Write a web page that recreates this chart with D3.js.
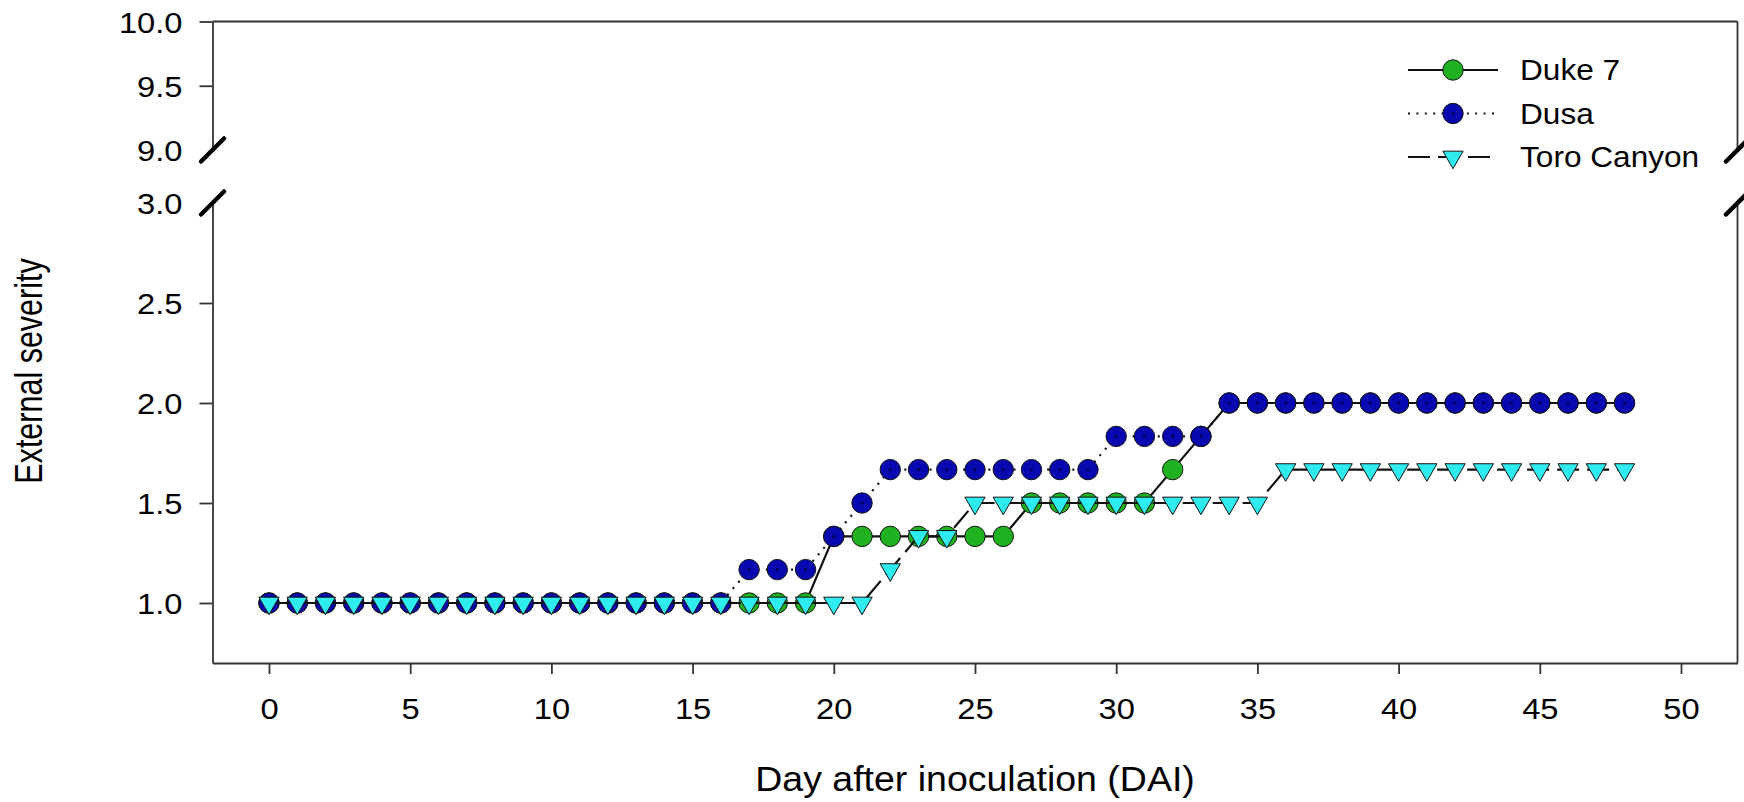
<!DOCTYPE html>
<html lang="en">
<head>
<meta charset="UTF-8">
<title>External severity</title>
<style>
  body { margin: 0; background: #fff; }
  svg text { font-family: "Liberation Sans", Arial, sans-serif; fill: #000; }
</style>
</head>
<body>
<div id="chart"></div>
<script src="https://cdn.jsdelivr.net/npm/d3@7"></script>
<script>
// data
const days = [0, 1, 2, 3, 4, 5, 6, 7, 8, 9, 10, 11, 12, 13, 14, 15, 16, 17, 18, 19, 20, 21, 22, 23, 24,
  25, 26, 27, 28, 29, 30, 31, 32, 33, 34, 35, 36, 37, 38, 39, 40, 41, 42, 43, 44, 45, 46, 47, 48];
const duke7 = [1, 1, 1, 1, 1, 1, 1, 1, 1, 1, 1, 1, 1, 1, 1, 1, 1, 1, 1, 1,
  1.333, 1.333, 1.333, 1.333, 1.333, 1.333, 1.333,
  1.5, 1.5, 1.5, 1.5, 1.5, 1.667, 1.833,
  2, 2, 2, 2, 2, 2, 2, 2, 2, 2, 2, 2, 2, 2, 2];
const dusa = [1, 1, 1, 1, 1, 1, 1, 1, 1, 1, 1, 1, 1, 1, 1, 1, 1,
  1.167, 1.167, 1.167, 1.333, 1.5,
  1.667, 1.667, 1.667, 1.667, 1.667, 1.667, 1.667, 1.667,
  1.833, 1.833, 1.833, 1.833,
  2, 2, 2, 2, 2, 2, 2, 2, 2, 2, 2, 2, 2, 2, 2];
const toro = [1, 1, 1, 1, 1, 1, 1, 1, 1, 1, 1, 1, 1, 1, 1, 1, 1, 1, 1, 1, 1, 1,
  1.167, 1.333, 1.333,
  1.5, 1.5, 1.5, 1.5, 1.5, 1.5, 1.5, 1.5, 1.5, 1.5, 1.5,
  1.667, 1.667, 1.667, 1.667, 1.667, 1.667, 1.667, 1.667, 1.667, 1.667, 1.667, 1.667, 1.667];
const seriesNames = ["Duke 7", "Dusa", "Toro Canyon"];
const xTicks = [0, 5, 10, 15, 20, 25, 30, 35, 40, 45, 50];
const yTicksLow = [1.0, 1.5, 2.0, 2.5, 3.0];
const yTicksHigh = [9.0, 9.5, 10.0];

const width = 1744, height = 802;
const stretch = 1.09; // the source picture is a bit wider than tall, text looks stretched

const svg = d3.select("#chart").append("svg")
  .attr("width", width)
  .attr("height", height);

const x = d3.scaleLinear().domain([-2, 52]).range([212.5, 1737.5]);
const yLow = d3.scaleLinear().domain([0.7, 3]).range([663, 203]);
const yHigh = d3.scaleLinear().domain([9, 10]).range([150, 21.5]);

const axisColor = "#333";

function styleAxis(g) {
  g.selectAll("path, line").attr("stroke", axisColor).attr("stroke-width", 1.8);
  g.selectAll("text").attr("font-size", 30).attr("fill", "#000")
    .style("font-family", '"Liberation Sans", Arial, sans-serif');
}

// x axis
const gx = svg.append("g")
  .attr("transform", "translate(0," + yLow.range()[0] + ")")
  .call(d3.axisBottom(x).tickValues(xTicks).tickSize(11).tickSizeOuter(0).tickFormat(d3.format("d")));
styleAxis(gx);
gx.selectAll("text")
  .attr("y", 0).attr("dy", 0)
  .attr("transform", "translate(0,56) scale(" + stretch + ",1)");

// y axis, lower part
const gyLow = svg.append("g")
  .attr("transform", "translate(" + x.range()[0] + ",0)")
  .call(d3.axisLeft(yLow).tickValues(yTicksLow).tickSize(13).tickSizeOuter(0).tickFormat(d3.format(".1f")));
// y axis, upper part
const gyHigh = svg.append("g")
  .attr("transform", "translate(" + x.range()[0] + ",0)")
  .call(d3.axisLeft(yHigh).tickValues(yTicksHigh).tickSize(13).tickSizeOuter(0).tickFormat(d3.format(".1f")));

[gyLow, gyHigh].forEach(function (g) {
  styleAxis(g);
  g.selectAll(".tick line").filter(function (d) { return d === 3 || d === 9; }).remove();
  g.selectAll("text")
    .attr("x", 0).attr("dy", "0.36em")
    .attr("transform", "translate(-30,0) scale(" + stretch + ",1)");
});

// top and right frame
const frame = svg.append("g").attr("stroke", axisColor).attr("stroke-width", 1.8);
frame.append("line")
  .attr("x1", x.range()[0]).attr("x2", x.range()[1])
  .attr("y1", yHigh(10)).attr("y2", yHigh(10));
frame.append("line")
  .attr("x1", x.range()[1]).attr("x2", x.range()[1])
  .attr("y1", yHigh(10)).attr("y2", yHigh(9));
frame.append("line")
  .attr("x1", x.range()[1]).attr("x2", x.range()[1])
  .attr("y1", yLow(3)).attr("y2", yLow.range()[0]);

// axis break marks
const breaks = [];
[x.range()[0], x.range()[1]].forEach(function (bx) {
  breaks.push([bx, yHigh(9)]);
  breaks.push([bx, yLow(3)]);
});
svg.append("g").selectAll("line")
  .data(breaks)
  .enter()
  .append("line")
  .attr("x1", function (d) { return d[0] - 11.5; })
  .attr("y1", function (d) { return d[1] + 11.5; })
  .attr("x2", function (d) { return d[0] + 11.5; })
  .attr("y2", function (d) { return d[1] - 11.5; })
  .attr("stroke", "#000")
  .attr("stroke-width", 4.5)
  .attr("stroke-linecap", "round");

// series
const series = [
  { name: seriesNames[0], values: duke7, color: "#1fb11f", shape: "circle", dash: null },
  { name: seriesNames[1], values: dusa, color: "#0808b0", shape: "circle", dash: "2,6.4", dot: true },
  { name: seriesNames[2], values: toro, color: "#2eecf0", shape: "triangle", dash: "22,8" }
];

const tri = d3.symbol().type(d3.symbolTriangle).size(178);

function drawMarker(sel, s) {
  if (s.shape === "circle") {
    sel.append("circle")
      .attr("r", 10.2)
      .attr("fill", s.color)
      .attr("stroke", "#111")
      .attr("stroke-width", 1);
    if (s.dot) {
      sel.append("circle").attr("r", 1.6).attr("fill", "#000050");
    }
  } else {
    sel.append("path")
      .attr("d", tri)
      .attr("transform", "rotate(180)")
      .attr("fill", s.color)
      .attr("stroke", "#111")
      .attr("stroke-width", 1);
  }
}

const line = d3.line()
  .x(function (d, i) { return x(days[i]); })
  .y(function (d) { return yLow(d); });

series.forEach(function (s) {
  svg.append("path")
    .datum(s.values)
    .attr("d", line)
    .attr("fill", "none")
    .attr("stroke", "#111")
    .attr("stroke-width", 2.2)
    .attr("stroke-dasharray", s.dash);

  const gs = svg.append("g").selectAll("g")
    .data(s.values)
    .enter()
    .append("g")
    .attr("transform", function (d, i) { return "translate(" + x(days[i]) + "," + yLow(d) + ")"; });
  drawMarker(gs, s);
});

// legend
const legend = svg.append("g");
series.forEach(function (s, i) {
  const ly = 70 + i * 43.5;
  legend.append("line")
    .attr("x1", 1408).attr("x2", 1498)
    .attr("y1", ly).attr("y2", ly)
    .attr("stroke", "#111")
    .attr("stroke-width", 2.2)
    .attr("stroke-dasharray", s.dash);
  const m = legend.append("g").attr("transform", "translate(1453," + ly + ")");
  drawMarker(m, s);
  legend.append("text")
    .attr("transform", "translate(1520," + ly + ") scale(" + stretch + ",1)")
    .attr("dy", "0.36em")
    .attr("font-size", 29)
    .text(s.name);
});

// axis titles
svg.append("text")
  .attr("transform", "translate(975,791) scale(" + stretch + ",1)")
  .attr("text-anchor", "middle")
  .attr("font-size", 34.4)
  .text("Day after inoculation (DAI)");

svg.append("text")
  .attr("transform", "translate(42,371) rotate(-90) scale(1,1.25)")
  .attr("text-anchor", "middle")
  .attr("font-size", 30.5)
  .text("External severity");
</script>
</body>
</html>
